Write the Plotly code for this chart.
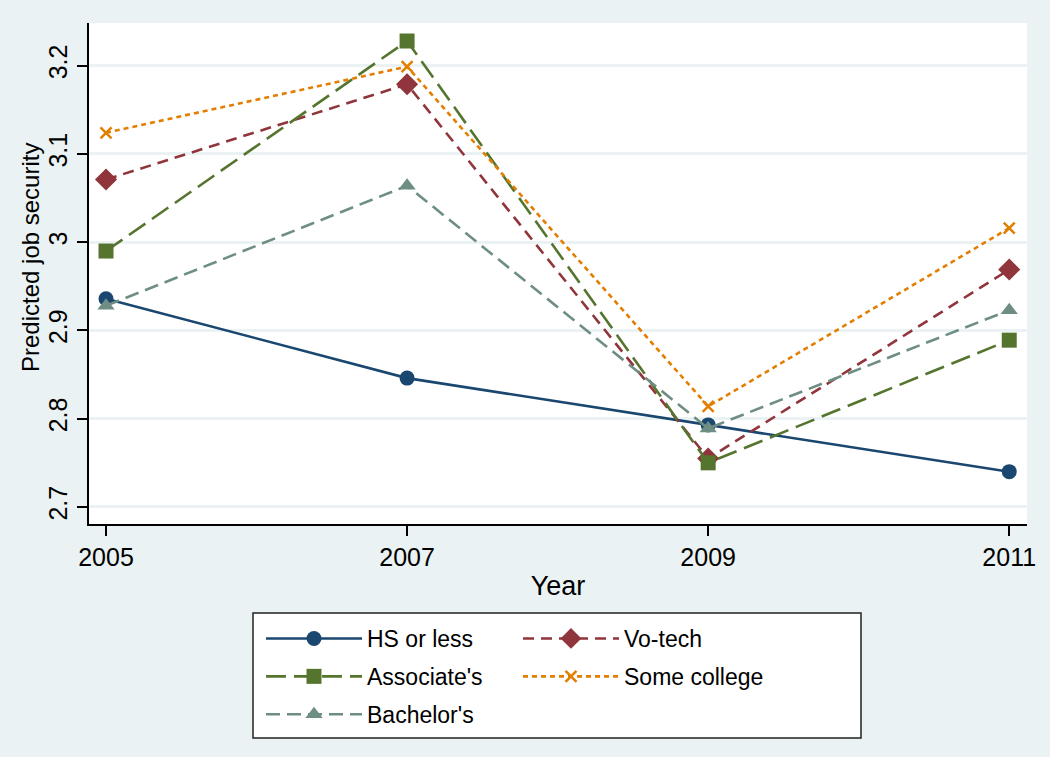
import plotly.graph_objects as go

years = [2005, 2007, 2009, 2011]
hs_or_less = [2.936, 2.846, 2.793, 2.740]
vo_tech = [3.071, 3.179, 2.755, 2.969]
associates = [2.990, 3.228, 2.750, 2.889]
some_college = [3.124, 3.199, 2.814, 3.016]
bachelors = [2.928, 3.064, 2.789, 2.923]

y_ticks = [2.7, 2.8, 2.9, 3.0, 3.1, 3.2]
y_tick_labels = ["2.7", "2.8", "2.9", "3", "3.1", "3.2"]
x_ticks = [2005, 2007, 2009, 2011]

BG = "#EAF2F3"
FONT = "Liberation Sans, Arial, sans-serif"

series = [
    # name, values, color, dash, symbol, legend
    ("HS or less", hs_or_less, "#1A476F", "solid", "circle", "legend"),
    ("Vo-tech", vo_tech, "#90353B", "11px,7px", "diamond", "legend2"),
    ("Associate's", associates, "#55752F", "20px,8px", "square", "legend"),
    ("Some college", some_college, "#E37E00", "5px,4px", "x-thin", "legend2"),
    ("Bachelor's", bachelors, "#6E8E84", "14px,7px", "triangle-up", "legend"),
]

fig = go.Figure()
for i, (name, vals, color, dash, symbol, leg) in enumerate(series):
    size = 17 if symbol == "diamond" else 15
    marker = dict(symbol=symbol, size=size, color=color)
    if symbol == "x-thin":
        marker = dict(symbol=symbol, size=11, color=color, line=dict(color=color, width=2.5))
    fig.add_trace(go.Scatter(
        x=years, y=vals, name=name, mode="lines+markers",
        line=dict(color=color, width=2.6, dash=dash),
        marker=marker, legend=leg, legendgroup=name,
    ))

W, H = 1050, 757
ml, mr, mt, mb = 89, 23, 23, 233
pw = W - ml - mr
ph = H - mt - mb

def px_x(p):
    return (p - ml) / pw

def px_y(p):
    return (H - mb - p) / ph

legend_common = dict(
    orientation="v", xanchor="left", yanchor="top",
    bgcolor="rgba(0,0,0,0)", borderwidth=0,
    font=dict(family=FONT, size=23, color="#000000"),
    itemwidth=96, tracegroupgap=5,
)

fig.update_layout(
    width=W, height=H,
    margin=dict(l=ml, r=mr, t=mt, b=mb),
    paper_bgcolor=BG, plot_bgcolor="#FFFFFF",
    font=dict(family=FONT, size=25, color="#000000"),
    showlegend=True,
    legend=dict(x=px_x(261), y=px_y(617), **legend_common),
    legend2=dict(x=px_x(518), y=px_y(617), **legend_common),
    xaxis=dict(
        range=[2004.887, 2011.118], tickvals=x_ticks,
        showline=True, linecolor="#000000", linewidth=1.5,
        ticks="outside", ticklen=10, tickwidth=1.5, tickcolor="#000000",
        showgrid=False, zeroline=False,
        tickfont=dict(family=FONT, size=25),
        title=dict(text="Year", font=dict(family=FONT, size=27), standoff=6),
    ),
    yaxis=dict(
        range=[2.6807, 3.2484], tickvals=y_ticks, ticktext=y_tick_labels,
        tickangle=-90,
        showline=True, linecolor="#000000", linewidth=1.5,
        ticks="outside", ticklen=10, tickwidth=1.5, tickcolor="#000000",
        showgrid=True, gridcolor=BG, gridwidth=2.5, zeroline=False,
        tickfont=dict(family=FONT, size=25),
    ),
    annotations=[dict(
        text="Predicted job security", textangle=-90, showarrow=False,
        xref="paper", yref="paper", x=px_x(30), y=px_y(258),
        xanchor="center", yanchor="middle",
        font=dict(family=FONT, size=24, color="#000000"),
    )],
    shapes=[dict(
        type="rect", xref="paper", yref="paper",
        x0=px_x(253), x1=px_x(861), y0=px_y(738), y1=px_y(613),
        line=dict(color="#222222", width=1.5), fillcolor="#FFFFFF", layer="below",
    )],
)

fig.write_html("out.html", config={"displayModeBar": False},
               post_script="document.body.style.margin='0';")
